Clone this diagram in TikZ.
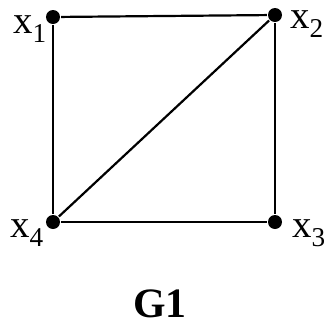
\documentclass[tikz,border=0pt]{standalone}
\usepackage{fontspec}
\setmainfont{Liberation Serif}
\usetikzlibrary{positioning}
\tikzset{
  every picture/.style={line width=2.2bp},
  vtx/.style={circle, fill=black, inner sep=0pt, minimum size=14bp},
  lbl/.style={font=\fontsize{39}{41}\selectfont, inner sep=0pt},
  ttl/.style={font=\fontsize{42}{44}\selectfont\bfseries, inner sep=0pt},
  edge/.style={line width=2.2bp},
}
\begin{document}
\begin{tikzpicture}[x=1bp, y=-1bp]
  \useasboundingbox (0,0) rectangle (324,322);
  % vertices
  \node[vtx] (v1) at (53,17) {};
  \node[vtx] (v2) at (275,15) {};
  \node[vtx] (v3) at (275,222) {};
  \node[vtx] (v4) at (53,222) {};
  % labels
  \node[lbl, anchor=base west] (l1) at (12,33) {x\textsubscript{1}};
  \node[lbl, anchor=base west] (l2) at (289,28) {x\textsubscript{2}};
  \node[lbl, anchor=base west] (l3) at (291,237) {x\textsubscript{3}};
  \node[lbl, anchor=base west] (l4) at (9,237) {x\textsubscript{4}};
  % edges
  \draw[edge] (v1) -- (v2);
  \draw[edge] (v2) -- (v3);
  \draw[edge] (v3) -- (v4);
  \draw[edge] (v4) -- (v1);
  \draw[edge] (v4) -- (v2);
  \node[ttl, anchor=base] (g) at (160,317) {G1};
\end{tikzpicture}
\end{document}
